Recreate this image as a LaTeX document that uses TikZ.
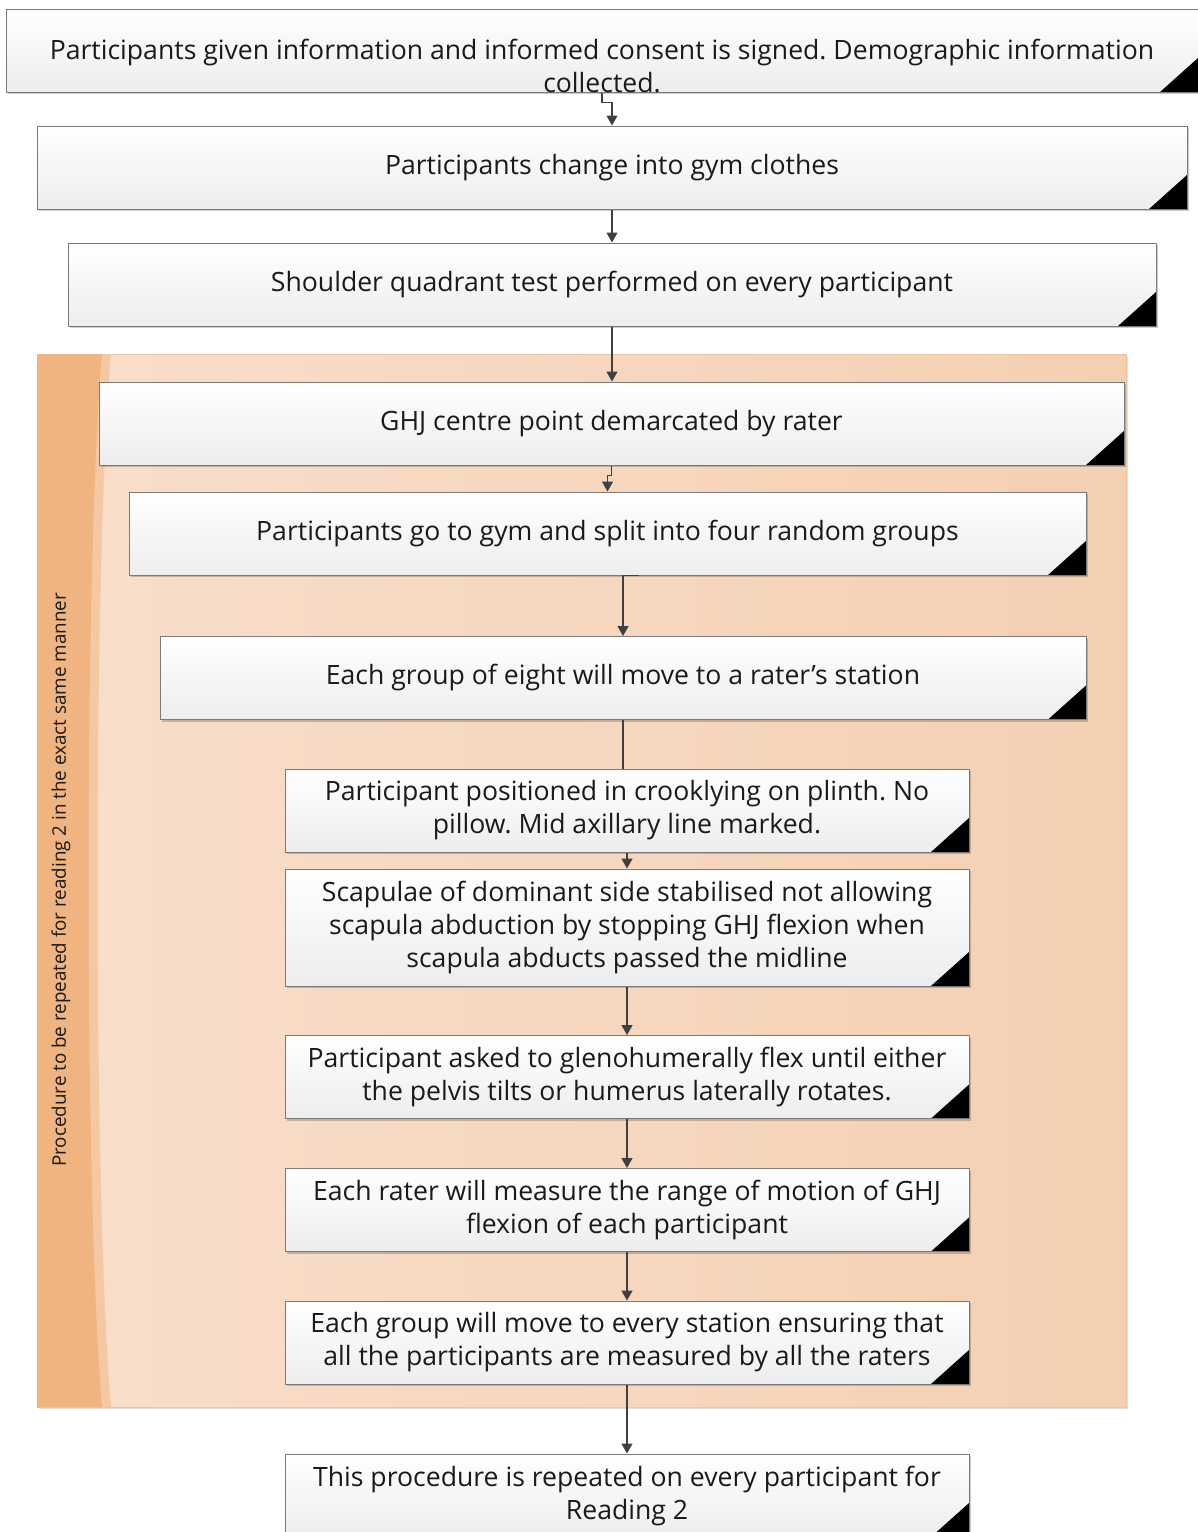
\documentclass[tikz,border=0pt]{standalone}
\usepackage{fontspec}
\setmainfont{Open Sans}
\usetikzlibrary{shadows,arrows.meta,calc}
\definecolor{panelL}{HTML}{F8DECB}
\definecolor{panelR}{HTML}{F4D0B2}
\definecolor{stripdark}{HTML}{EFB47F}
\definecolor{stripband}{HTML}{F5C8A4}
\definecolor{panelborder}{HTML}{F0C4A0}
\definecolor{boxline}{HTML}{7A7A7A}
\definecolor{boxbot}{HTML}{EDEDED}
\definecolor{txt}{HTML}{1A1A1A}
\definecolor{conncol}{HTML}{404040}
\frenchspacing
\newcommand\boxfont{\fontsize{26.6}{33}\selectfont}
\tikzset{
  box/.style={draw=boxline, line width=1pt, top color=white, bottom color=boxbot,
    minimum height=83pt, inner sep=0pt, align=center, font=\boxfont, text=txt,
    drop shadow={shadow xshift=2pt, shadow yshift=-2pt, opacity=0.2, fill=black},
    path picture={\fill[black] (path picture bounding box.south east) -- ++(-38pt,0pt) -- ++(38pt,34pt) -- cycle;}},
  conn/.style={draw=conncol, line width=1.3pt, -{Triangle[width=11pt,length=10pt]}},
  connline/.style={draw=conncol, line width=1.3pt},
  boxtext/.style={align=center, font=\boxfont, text=txt, inner sep=0pt},
}
\begin{document}
\begin{tikzpicture}[x=1pt,y=-1pt]
\useasboundingbox (0,0) rectangle (1198,1532);
% panel
\node[draw=panelborder, line width=0.8pt, left color=panelL, right color=panelR,
  minimum width=1089pt, minimum height=1053pt, inner sep=0pt,
  drop shadow={shadow xshift=2pt, shadow yshift=-2pt, opacity=0.12, fill=black}] (panel) at (581.5,880.5) {};
\fill[stripband] (37,354) -- (111,354) .. controls (93,560) and (93,1200) .. (111,1407) -- (37,1407) -- cycle;
\fill[stripdark] (37,354) -- (102,354) .. controls (84,560) and (84,1200) .. (102,1407) -- (37,1407) -- cycle;
\node[rotate=90, font=\fontsize{18.8}{22}\selectfont, text=txt, inner sep=0pt] (side) at (61,880) {Procedure to be repeated for reading 2 in the exact same manner};

% boxes
\node[box, minimum width=1192pt] (b1) at (602,50.5) {};
\node[boxtext] (t1) at (602,66.5) {Participants given information and informed consent is signed. Demographic information\\collected.};
\node[box, minimum width=1150pt] (b2) at (612,167.5) {Participants change into gym clothes};
\node[box, minimum width=1088pt] (b3) at (612,284.5) {Shoulder quadrant test performed on every participant};
\node[box, minimum width=1025pt] (b4) at (611.5,423.5) {GHJ centre point demarcated by rater};
\node[box, minimum width=957pt] (b5) at (607.5,533.5) {Participants go to gym and split into four random groups};
\node[box, minimum width=926pt] (b6) at (623,678) {Each group of eight will move to a rater’s station};
\node[box, minimum width=684pt] (b7) at (627,810.5) {Participant positioned in crooklying on plinth. No\\pillow. Mid axillary line marked.};
\node[box, minimum width=684pt, minimum height=117pt] (b8) at (627,927.5) {Scapulae of dominant side stabilised not allowing\\scapula abduction by stopping GHJ flexion when\\scapula abducts passed the midline};
\node[box, minimum width=684pt] (b9) at (627,1077) {Participant asked to glenohumerally flex until either\\the pelvis tilts or humerus laterally rotates.};
\node[box, minimum width=684pt] (b10) at (627,1210) {Each rater will measure the range of motion of GHJ\\flexion of each participant};
\node[box, minimum width=684pt] (b11) at (627,1342.5) {Each group will move to every station ensuring that\\all the participants are measured by all the raters};
\node[box, minimum width=684pt] (b12) at (627,1495.5) {This procedure is repeated on every participant for\\Reading 2};

% connectors
\draw[conn] (b1.south) -- ++(0,10) -| (b2.north);
\draw[conn] (b2.south) -- (b2.south |- b3.north);
\draw[conn] (b3.south) -- (b3.south |- b4.north);
\draw[conn] (b4.south) -- ++(0,10) -| (b5.north);
\draw[conn] ([xshift=31pt]b5.south) -| (b6.north);
\draw[connline] (b6.south) -- (b6.south |- b7.north);
\draw[conn] (b7.south) -- (b8.north);
\draw[conn] (b8.south) -- (b9.north);
\draw[conn] (b9.south) -- (b10.north);
\draw[conn] (b10.south) -- (b11.north);
\draw[conn] (b11.south) -- (b12.north);
\end{tikzpicture}
\end{document}
